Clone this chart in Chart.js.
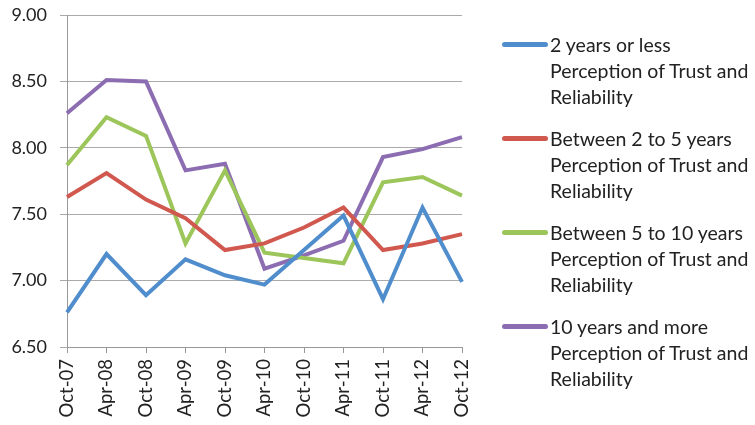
<!DOCTYPE html>
<html>
<head>
<meta charset="utf-8">
<script src="https://cdn.jsdelivr.net/npm/chart.js@4"></script>
<style>
  html, body { margin: 0; padding: 0; background: #fff; }
  #wrap { position: relative; width: 755px; height: 425px; }
  #legend { position: absolute; left: 502px; top: 32px; list-style: none; margin: 0; padding: 0;
            font-family: Lato, "Open Sans", sans-serif; font-size: 19.5px; color: #222; }
  #legend li { position: relative; padding-left: 48px; line-height: 26px; height: 94px; white-space: nowrap; }
  #legend li span { position: absolute; left: 0; top: 10px; width: 46px; height: 5px; border-radius: 3px; }
</style>
</head>
<body>
<div id="wrap">
  <canvas id="chart" width="755" height="425"></canvas>
  <ul id="legend"></ul>
</div>
<script>
// Data
const periods = ['Oct-07', 'Apr-08', 'Oct-08', 'Apr-09', 'Oct-09', 'Apr-10', 'Oct-10', 'Apr-11', 'Oct-11', 'Apr-12', 'Oct-12'];
const lessThan2 = [6.76, 7.20, 6.89, 7.16, 7.04, 6.97, 7.23, 7.49, 6.86, 7.55, 6.99];
const from2to5 = [7.63, 7.81, 7.61, 7.47, 7.23, 7.28, 7.40, 7.55, 7.23, 7.28, 7.35];
const from5to10 = [7.87, 8.23, 8.09, 7.28, 7.83, 7.21, 7.17, 7.13, 7.74, 7.78, 7.64];
const over10 = [8.26, 8.51, 8.50, 7.83, 7.88, 7.09, 7.19, 7.30, 7.93, 7.99, 8.08];
const seriesNames = [
    ['2 years or less', 'Perception of Trust and', 'Reliability'],
    ['Between 2 to 5 years', 'Perception of Trust and', 'Reliability'],
    ['Between 5 to 10 years', 'Perception of Trust and', 'Reliability'],
    ['10 years and more', 'Perception of Trust and', 'Reliability']
];
const yTicks = [6.5, 7.0, 7.5, 8.0, 8.5, 9.0];

const colors = ['#4f8dcc', '#d0584e', '#9cc55a', '#8c6db1'];
const values = [lessThan2, from2to5, from5to10, over10];

const datasets = values.map((v, i) => ({
    label: seriesNames[i].join(' '),
    data: v,
    borderColor: colors[i],
    backgroundColor: colors[i],
    borderWidth: 4,
    pointRadius: 0,
    tension: 0,
    fill: false
}));

const fontFamily = 'Lato, "Open Sans", sans-serif';

new Chart(document.getElementById('chart').getContext('2d'), {
    type: 'line',
    data: { labels: periods, datasets: datasets },
    options: {
        responsive: false,
        animation: false,
        layout: { padding: { left: 0, right: 293, top: 15, bottom: 0 } },
        plugins: { legend: { display: false }, tooltip: { enabled: false } },
        scales: {
            x: {
                offset: false,
                grid: { drawOnChartArea: false, drawTicks: true, tickLength: 6, color: '#999' },
                border: { color: '#999', width: 1 },
                ticks: { color: '#222', font: { family: fontFamily, size: 18.5 }, maxRotation: 90, minRotation: 90, padding: 6 },
                afterFit: (scale) => { scale.height = 78; scale.paddingLeft = 0; scale.paddingRight = 0; }
            },
            y: {
                min: 6.5,
                max: 9.0,
                afterBuildTicks: (scale) => { scale.ticks = yTicks.map(v => ({ value: v })); },
                grid: { color: '#aaa', tickLength: 7, drawTicks: true },
                border: { color: '#999', width: 1 },
                ticks: { color: '#222', font: { family: fontFamily, size: 18 }, padding: 13, callback: (v) => Number(v).toFixed(2) },
                afterFit: (scale) => { scale.width = 67; scale.paddingTop = 0; scale.paddingBottom = 0; }
            }
        }
    }
});

// Legend with wrapped labels
const legend = document.getElementById('legend');
seriesNames.forEach((lines, i) => {
    const li = document.createElement('li');
    li.innerHTML = `<span style="background:${colors[i]}"></span>${lines.join('<br>')}`;
    legend.appendChild(li);
});
</script>
</body>
</html>
